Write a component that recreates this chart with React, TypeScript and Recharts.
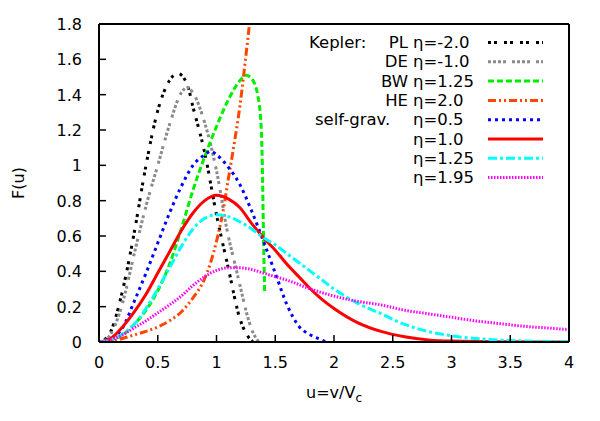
import { LineChart, Line, XAxis, YAxis } from "recharts";

// axis ticks
const xTicks = [0, 0.5, 1, 1.5, 2, 2.5, 3, 3.5, 4];
const yTicks = [0, 0.2, 0.4, 0.6, 0.8, 1, 1.2, 1.4, 1.6, 1.8];

// Kepler: PL eta=-2.0
const plU = [0, 0.05, 0.1, 0.2, 0.3, 0.4, 0.5, 0.6, 0.67, 0.75, 0.8, 0.9, 1.0, 1.1, 1.2, 1.26, 1.31];
const plF = [0, 0.015, 0.06, 0.29, 0.62, 1.0, 1.31, 1.48, 1.52, 1.46, 1.33, 1.07, 0.72, 0.42, 0.13, 0.04, 0];

// Kepler: DE eta=-1.0
const deU = [0, 0.05, 0.1, 0.2, 0.3, 0.4, 0.5, 0.6, 0.7, 0.75, 0.8, 0.9, 1.0, 1.1, 1.15, 1.2, 1.25, 1.3, 1.36];
const deF = [0, 0.01, 0.045, 0.22, 0.5, 0.77, 1.0, 1.23, 1.41, 1.44, 1.41, 1.24, 0.97, 0.6, 0.46, 0.32, 0.18, 0.07, 0];

// Kepler: BW eta=1.25
const bwU = [0, 0.1, 0.2, 0.3, 0.4, 0.5, 0.6, 0.7, 0.8, 0.9, 1.0, 1.1, 1.2, 1.25, 1.3, 1.35, 1.38, 1.39, 1.4, 1.41];
const bwF = [0, 0.01, 0.04, 0.1, 0.18, 0.29, 0.44, 0.64, 0.86, 1.05, 1.22, 1.37, 1.48, 1.51, 1.49, 1.4, 1.22, 1.0, 0.6, 0.28];

// Kepler: HE eta=2.0
const heU = [0, 0.1, 0.2, 0.3, 0.4, 0.5, 0.6, 0.7, 0.8, 0.9, 0.95, 1.0, 1.05, 1.1, 1.15, 1.2, 1.25, 1.28, 1.31];
const heF = [0, 0.005, 0.02, 0.04, 0.06, 0.085, 0.12, 0.17, 0.25, 0.36, 0.45, 0.57, 0.72, 0.92, 1.12, 1.34, 1.62, 1.8, 2.05];

// self-grav. eta=0.5
const sg05U = [0, 0.1, 0.2, 0.3, 0.4, 0.5, 0.6, 0.7, 0.8, 0.9, 0.95, 1.0, 1.1, 1.2, 1.3, 1.4, 1.5, 1.6, 1.7, 1.8, 1.9, 1.93];
const sg05F = [0, 0.02, 0.08, 0.23, 0.39, 0.56, 0.73, 0.88, 1.0, 1.06, 1.08, 1.06, 0.99, 0.89, 0.74, 0.57, 0.39, 0.21, 0.09, 0.04, 0.01, 0];

// self-grav. eta=1.0
const sg10U = [0, 0.1, 0.2, 0.3, 0.4, 0.5, 0.6, 0.7, 0.8, 0.9, 1.0, 1.1, 1.2, 1.3, 1.4, 1.5, 1.6, 1.7, 1.8, 1.9, 2.0, 2.2, 2.4, 2.6, 2.8, 3.0, 3.5, 4.0];
const sg10F = [0, 0.02, 0.085, 0.17, 0.27, 0.39, 0.51, 0.63, 0.73, 0.8, 0.83, 0.81, 0.76, 0.67, 0.59, 0.52, 0.44, 0.37, 0.3, 0.24, 0.19, 0.11, 0.06, 0.03, 0.012, 0.005, 0.001, 0];

// self-grav. eta=1.25
const sg125U = [0, 0.1, 0.2, 0.3, 0.4, 0.5, 0.6, 0.7, 0.8, 0.9, 1.0, 1.1, 1.2, 1.3, 1.4, 1.5, 1.6, 1.7, 1.8, 1.9, 2.0, 2.2, 2.4, 2.6, 2.8, 3.0, 3.2, 3.5, 4.0];
const sg125F = [0, 0.012, 0.045, 0.1, 0.19, 0.3, 0.42, 0.54, 0.64, 0.7, 0.72, 0.71, 0.68, 0.64, 0.59, 0.55, 0.5, 0.45, 0.4, 0.35, 0.3, 0.22, 0.16, 0.1, 0.06, 0.035, 0.02, 0.008, 0.002];

// self-grav. eta=1.95
const sg195U = [0, 0.1, 0.2, 0.3, 0.4, 0.5, 0.6, 0.7, 0.8, 0.9, 1.0, 1.1, 1.2, 1.3, 1.4, 1.5, 1.6, 1.8, 2.0, 2.2, 2.4, 2.6, 2.8, 3.0, 3.2, 3.4, 3.6, 3.8, 4.0];
const sg195F = [0, 0.012, 0.04, 0.08, 0.12, 0.165, 0.21, 0.26, 0.32, 0.37, 0.405, 0.42, 0.42, 0.41, 0.39, 0.37, 0.35, 0.3, 0.26, 0.23, 0.21, 0.18, 0.16, 0.14, 0.12, 0.105, 0.09, 0.08, 0.07];

const toPoints = (u: number[], f: number[]) => u.map((x, i) => ({ u: x, F: f[i] }));

const series = [
  { key: "pl", group: "Kepler:", prefix: "PL", eta: "η=-2.0", data: toPoints(plU, plF), color: "#000000", dash: "3 3 3 7" },
  { key: "de", group: "", prefix: "DE", eta: "η=-1.0", data: toPoints(deU, deF), color: "#8a8a8a", dash: "3 2 3 2 3 2 3 6" },
  { key: "bw", group: "", prefix: "BW", eta: "η=1.25", data: toPoints(bwU, bwF), color: "#00ee00", dash: "6 3" },
  { key: "he", group: "", prefix: "HE", eta: "η=2.0", data: toPoints(heU, heF), color: "#ff4500", dash: "8 3 2 3 2 3" },
  { key: "sg05", group: "self-grav.", prefix: "", eta: "η=0.5", data: toPoints(sg05U, sg05F), color: "#0000ff", dash: "3 4" },
  { key: "sg10", group: "", prefix: "", eta: "η=1.0", data: toPoints(sg10U, sg10F), color: "#ff0000", dash: "" },
  { key: "sg125", group: "", prefix: "", eta: "η=1.25", data: toPoints(sg125U, sg125F), color: "#00ffff", dash: "9 3 3 3" },
  { key: "sg195", group: "", prefix: "", eta: "η=1.95", data: toPoints(sg195U, sg195F), color: "#ff00ff", dash: "1.5 1.5" },
];

const font = "'DejaVu Sans', sans-serif";
const tickLen = 7;

function BottomTick(props: any) {
  const { x, y, payload } = props;
  return (
    <g>
      <line x1={x} y1={y} x2={x} y2={y - tickLen} stroke="#000" strokeWidth={1.5} />
      <text x={x} y={y + 26} textAnchor="middle" fontSize={16} fontFamily={font} fill="#000">
        {payload.value}
      </text>
    </g>
  );
}

function LeftTick(props: any) {
  const { x, y, payload } = props;
  return (
    <g>
      <line x1={x} y1={y} x2={x + tickLen} y2={y} stroke="#000" strokeWidth={1.5} />
      <text x={x - 17} y={y + 6} textAnchor="end" fontSize={16} fontFamily={font} fill="#000">
        {payload.value}
      </text>
    </g>
  );
}

function TopTick(props: any) {
  const { x, y } = props;
  return <line x1={x} y1={y} x2={x} y2={y + tickLen} stroke="#000" strokeWidth={1.5} />;
}

function RightTick(props: any) {
  const { x, y } = props;
  return <line x1={x} y1={y} x2={x - tickLen} y2={y} stroke="#000" strokeWidth={1.5} />;
}

export default function App() {
  const rowY = (i: number) => 48 + i * 19.3;
  return (
    <div style={{ position: "absolute", left: 0, top: 0, width: 600, height: 421, background: "#fff" }}>
      <LineChart width={600} height={421} margin={{ top: 20, right: 27, bottom: 29, left: 39 }}>
        <XAxis
          dataKey="u"
          type="number"
          domain={[0, 4]}
          ticks={xTicks}
          interval={0}
          allowDataOverflow
          height={50}
          tickSize={0}
          tickMargin={0}
          tickLine={false}
          tick={BottomTick}
          axisLine={{ stroke: "#000", strokeWidth: 2 }}
        />
        <XAxis
          xAxisId="top"
          orientation="top"
          dataKey="u"
          type="number"
          domain={[0, 4]}
          ticks={xTicks}
          interval={0}
          height={4}
          tickSize={0}
          tickMargin={0}
          tickLine={false}
          tick={TopTick}
          axisLine={{ stroke: "#000", strokeWidth: 2 }}
        />
        <YAxis
          type="number"
          domain={[0, 1.8]}
          ticks={yTicks}
          interval={0}
          allowDataOverflow
          width={60}
          tickSize={0}
          tickMargin={0}
          tickLine={false}
          tick={LeftTick}
          axisLine={{ stroke: "#000", strokeWidth: 2 }}
        />
        <YAxis
          yAxisId="right"
          orientation="right"
          type="number"
          domain={[0, 1.8]}
          ticks={yTicks}
          interval={0}
          width={4}
          tickSize={0}
          tickMargin={0}
          tickLine={false}
          tick={RightTick}
          axisLine={{ stroke: "#000", strokeWidth: 2 }}
        />
        {series.map((s) => (
          <Line
            key={s.key}
            data={s.data}
            dataKey="F"
            type="monotone"
            stroke={s.color}
            strokeWidth={3}
            strokeDasharray={s.dash || undefined}
            strokeLinecap="butt"
            dot={false}
            activeDot={false}
            isAnimationActive={false}
          />
        ))}
      </LineChart>

      <svg
        width={600}
        height={421}
        style={{ position: "absolute", left: 0, top: 0, pointerEvents: "none" }}
        fontFamily={font}
      >
        <text x={24} y={183} fontSize={16} textAnchor="middle" transform="rotate(-90 24 183)" fill="#000">
          F(u)
        </text>
        <text x={334} y={398} fontSize={16} textAnchor="middle" fill="#000">
          u=v/V
          <tspan fontSize={12} dy={4}>
            c
          </tspan>
        </text>
        {series.map((s, i) => (
          <g key={s.key}>
            {s.group && (
              <text x={s.prefix ? 309 : 315} y={rowY(i)} fontSize={16.5} fill="#000">
                {s.group}
              </text>
            )}
            {s.prefix && (
              <text x={408} y={rowY(i)} fontSize={16.5} textAnchor="end" fill="#000">
                {s.prefix}
              </text>
            )}
            <text x={413} y={rowY(i)} fontSize={16.5} fill="#000">
              {s.eta}
            </text>
            <line
              x1={488}
              x2={543}
              y1={rowY(i) - 5.5}
              y2={rowY(i) - 5.5}
              stroke={s.color}
              strokeWidth={3}
              strokeDasharray={s.dash || undefined}
            />
          </g>
        ))}
      </svg>
    </div>
  );
}
